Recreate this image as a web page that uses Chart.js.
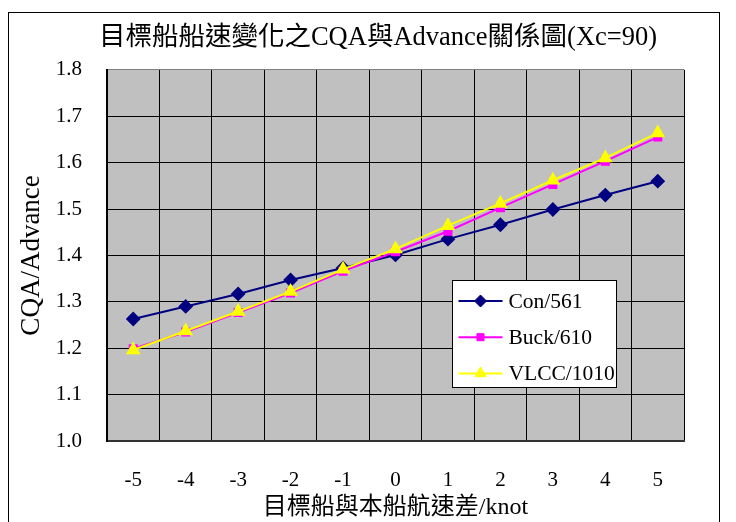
<!DOCTYPE html>
<html>
<head>
<meta charset="utf-8">
<script src="https://cdn.jsdelivr.net/npm/chart.js@4/dist/chart.umd.min.js"></script>
<style>
  html, body { margin: 0; padding: 0; background: #ffffff; }
  #wrap { width: 736px; height: 522px; }
</style>
</head>
<body>
<div id="wrap"><canvas id="c" width="736" height="522"></canvas></div>
<script>
// Speed difference between target ship and own ship (knot)
const speedDiff = ['-5', '-4', '-3', '-2', '-1', '0', '1', '2', '3', '4', '5'];
// CQA/Advance ratio for each ship type
const con561   = [1.263, 1.290, 1.317, 1.347, 1.373, 1.401, 1.435, 1.466, 1.499, 1.530, 1.560];
const buck610  = [1.199, 1.235, 1.277, 1.319, 1.366, 1.408, 1.452, 1.503, 1.553, 1.603, 1.655];
const vlcc1010 = [1.196, 1.237, 1.279, 1.322, 1.370, 1.414, 1.464, 1.512, 1.562, 1.610, 1.664];
const seriesNames = ['Con/561', 'Buck/610', 'VLCC/1010'];
const yTicks = [1.0, 1.1, 1.2, 1.3, 1.4, 1.5, 1.6, 1.7, 1.8];

const SERIF = '"Liberation Serif", "Noto Sans CJK TC", serif';

// Grey plot background plus the outer frame around the whole figure
const frame = {
  id: 'frame',
  beforeDraw(chart) {
    const { ctx, chartArea: a } = chart;
    ctx.save();
    ctx.fillStyle = '#ffffff';
    ctx.fillRect(0, 0, chart.width, chart.height);
    ctx.fillStyle = '#c0c0c0';
    ctx.fillRect(a.left, a.top, a.right - a.left, a.bottom - a.top);
    ctx.strokeStyle = '#000000';
    ctx.lineWidth = 1;
    ctx.strokeRect(8.5, 12.5, 711, 530);
    ctx.restore();
  }
};

// Boxed legend placed inside the lower right of the plot
const boxLegend = {
  id: 'boxLegend',
  afterDatasetsDraw(chart) {
    const { ctx, chartArea: a } = chart;
    const x0 = Math.round(a.left + (a.right - a.left) * 0.598) + 0.5;
    const y0 = Math.round(a.top + (a.bottom - a.top) * 0.566) + 0.5;
    const w = 164, h = 107;
    ctx.save();
    ctx.fillStyle = '#ffffff';
    ctx.fillRect(x0, y0, w, h);
    ctx.strokeStyle = '#000000';
    ctx.lineWidth = 1;
    ctx.strokeRect(x0, y0, w, h);
    ctx.font = '21.5px ' + SERIF;
    ctx.textBaseline = 'middle';
    ctx.textAlign = 'left';
    chart.data.datasets.forEach((ds, i) => {
      const y = y0 + 20.5 + i * 36.2;
      ctx.strokeStyle = ds.borderColor;
      ctx.lineWidth = ds.borderWidth;
      ctx.beginPath();
      ctx.moveTo(x0 + 6, y);
      ctx.lineTo(x0 + 50, y);
      ctx.stroke();
      ctx.fillStyle = ds.pointBackgroundColor;
      ctx.strokeStyle = ds.pointBorderColor;
      ctx.lineWidth = 1;
      Chart.helpers.drawPoint(ctx, {
        pointStyle: ds.pointStyle,
        radius: ds.pointRadius,
        rotation: 0,
        borderWidth: 1
      }, x0 + 28, y);
      ctx.fillStyle = '#000000';
      ctx.fillText(ds.label, x0 + 56, y + 1);
    });
    ctx.restore();
  }
};

const makeSet = (label, data, color, style, radius) => ({
  label,
  data,
  borderColor: color,
  backgroundColor: color,
  pointBackgroundColor: color,
  pointBorderColor: color,
  pointStyle: style,
  pointRadius: radius,
  pointHoverRadius: radius,
  borderWidth: 2,
  tension: 0,
  fill: false
});

const datasets = [
  makeSet(seriesNames[0], con561, '#000080', 'rectRot', 6),
  makeSet(seriesNames[1], buck610, '#ff00ff', 'rect', 5),
  makeSet(seriesNames[2], vlcc1010, '#ffff00', 'triangle', 6.5)
];
datasets[0].order = 3;
datasets[1].order = 2;
datasets[2].order = 1;

new Chart(document.getElementById('c'), {
  type: 'line',
  data: { labels: speedDiff, datasets },
  plugins: [frame, boxLegend],
  options: {
    responsive: false,
    animation: false,
    devicePixelRatio: 1,
    layout: { padding: { left: 20, right: 0, top: 0, bottom: 0 } },
    plugins: {
      legend: { display: false },
      tooltip: { enabled: false },
      title: {
        display: true,
        text: '目標船船速變化之CQA與Advance關係圖(Xc=90)',
        color: '#000000',
        font: { family: SERIF, size: 26.5, weight: 'normal', lineHeight: 1.2 },
        padding: { top: 22, bottom: 16 }
      }
    },
    scales: {
      x: {
        type: 'category',
        offset: true,
        grid: {
          offset: true,
          drawTicks: false,
          lineWidth: 1,
          color: (c) => (c.index === speedDiff.length ? '#808080' : '#000000')
        },
        border: { display: true, color: '#333333', width: 2 },
        ticks: {
          color: '#000000',
          padding: 27,
          maxRotation: 0,
          font: { family: SERIF, size: 21, lineHeight: 1.2 }
        },
        title: {
          display: true,
          text: '目標船與本船航速差/knot',
          color: '#000000',
          font: { family: SERIF, size: 24, lineHeight: 1 },
          padding: { top: 0, bottom: 2 }
        },
        afterFit(scale) { scale.height = 81; }
      },
      y: {
        min: 1.0,
        max: 1.8,
        afterBuildTicks(scale) { scale.ticks = yTicks.map(v => ({ value: v })); },
        grid: {
          drawTicks: false,
          lineWidth: 1,
          color: (c) => (c.index === yTicks.length - 1 ? '#808080' : '#000000')
        },
        border: { display: true, color: '#000000', width: 2 },
        ticks: {
          color: '#000000',
          padding: 25,
          font: { family: SERIF, size: 21 },
          callback: (v) => Number(v).toFixed(1)
        },
        title: {
          display: true,
          text: 'CQA/Advance',
          color: '#000000',
          font: { family: SERIF, size: 27, lineHeight: 0.85 },
          padding: { top: 0, bottom: 0 }
        },
        afterFit(scale) { scale.width = 87; }
      },
      // empty right-hand margin beside the plot
      yRight: {
        position: 'right',
        display: true,
        min: 0,
        max: 1,
        grid: { display: false, drawOnChartArea: false },
        border: { display: false },
        ticks: { display: false },
        afterFit(scale) { scale.width = 52; }
      }
    }
  }
});
</script>
</body>
</html>
